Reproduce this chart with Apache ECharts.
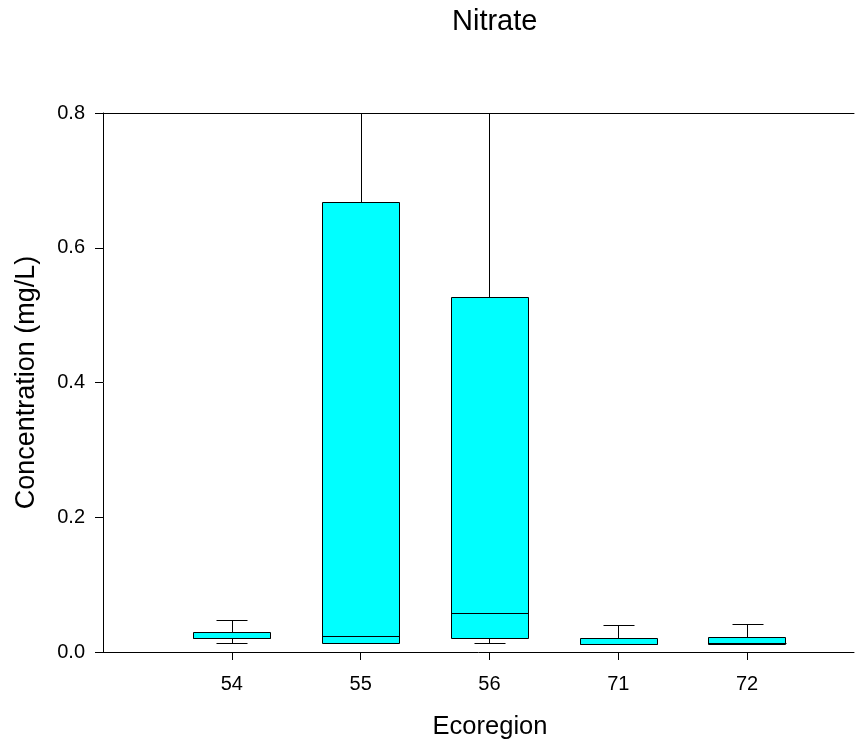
<!DOCTYPE html>
<html>
<head>
<meta charset="utf-8">
<script src="https://cdn.jsdelivr.net/npm/echarts@6/dist/echarts.min.js"></script>
<style>
html,body{margin:0;padding:0;background:#fff;}
#chart{width:866px;height:748px;}
</style>
</head>
<body>
<div id="chart"></div>
<script>
// Data
var categories = ['54', '55', '56', '71', '72'];
var lowWhisker = [0.0128, 0.013, 0.0134, 0.012, 0.012];
var q1Values = [0.0212, 0.0134, 0.0217, 0.0123, 0.0123];
var medianValues = [0.0215, 0.0232, 0.0574, 0.0125, 0.013];
var q3Values = [0.0297, 0.6675, 0.5275, 0.0208, 0.0223];
var highWhisker = [0.0469, 0.8, 0.8, 0.0405, 0.042];
var yTicks = [0, 0.2, 0.4, 0.6, 0.8];

var positions = categories.map(function (c, i) { return i + 1; });
var boxData = categories.map(function (c, i) {
  return [positions[i], lowWhisker[i], q1Values[i], medianValues[i], q3Values[i], highWhisker[i]];
});

var BOX_W = 0.6, CAP_W = 0.24;
var lineStyle = { stroke: '#000', lineWidth: 1 };

function renderItem(params, api) {
  var x = api.value(0);
  var lo = api.value(1), q1 = api.value(2), md = api.value(3), q3 = api.value(4), hi = api.value(5);
  var pL = api.coord([x - BOX_W / 2, q3]);
  var pR = api.coord([x + BOX_W / 2, q1]);
  var cL = api.coord([x - CAP_W / 2, hi]);
  var cR = api.coord([x + CAP_W / 2, lo]);
  var pc = api.coord([x, 0]);
  var yHi = api.coord([x, hi])[1], yLo = api.coord([x, lo])[1];
  var yQ1 = api.coord([x, q1])[1], yQ3 = api.coord([x, q3])[1], yMd = api.coord([x, md])[1];
  var cx = Math.round(pc[0]) + 0.5;
  function r(v) { return Math.round(v) + 0.5; }
  return {
    type: 'group',
    children: [
      { type: 'line', shape: { x1: cx, y1: r(yHi), x2: cx, y2: r(yQ3) }, style: lineStyle },
      { type: 'line', shape: { x1: cx, y1: r(yQ1), x2: cx, y2: r(yLo) }, style: lineStyle },
      { type: 'line', shape: { x1: r(cL[0]), y1: r(yHi), x2: r(cR[0]), y2: r(yHi) }, style: lineStyle },
      { type: 'line', shape: { x1: r(cL[0]), y1: r(yLo), x2: r(cR[0]), y2: r(yLo) }, style: lineStyle },
      { type: 'rect', shape: { x: r(pL[0]), y: r(yQ3), width: Math.round(pR[0] - pL[0]), height: Math.max(1, Math.round(yQ1 - yQ3)) },
        style: { fill: '#00FFFF', stroke: '#000', lineWidth: 1 } },
      { type: 'line', shape: { x1: r(pL[0]), y1: r(yMd), x2: r(pR[0]), y2: r(yMd) }, style: lineStyle }
    ]
  };
}

var chart = echarts.init(document.getElementById('chart'), null, { renderer: 'canvas' });
var FONT = '"Liberation Sans", Arial, sans-serif';
chart.setOption({
  backgroundColor: '#fff',
  animation: false,
  title: {
    text: 'Nitrate',
    left: 447,
    top: 2,
    textStyle: { fontFamily: FONT, fontSize: 29, fontWeight: 'normal', color: '#000' }
  },
  grid: { left: 103, right: 12, top: 113, bottom: 96, containLabel: false },
  xAxis: [{
    type: 'value',
    min: 0, max: 5.83,
    interval: 1,
    name: 'Ecoregion',
    nameLocation: 'middle',
    nameGap: 62,
    nameTextStyle: { fontFamily: FONT, fontSize: 25.5, color: '#000', padding: [0, 0, 0, 23] },
    axisLine: { show: true, onZero: false, lineStyle: { color: '#000', width: 1 } },
    axisTick: { show: true, inside: false, length: 8, customValues: positions, lineStyle: { color: '#000' } },
    axisLabel: {
      customValues: positions, margin: 22,
      fontFamily: FONT, fontSize: 20, color: '#000',
      formatter: function (v) { return categories[Math.round(v) - 1] || ''; }
    },
    splitLine: { show: false }
  }, {
    type: 'value',
    position: 'top',
    min: 0, max: 5.83,
    axisLine: { show: true, onZero: false, lineStyle: { color: '#000', width: 1 } },
    axisTick: { show: false },
    axisLabel: { show: false },
    splitLine: { show: false }
  }],
  yAxis: {
    type: 'value',
    min: 0, max: 0.8, interval: 0.2,
    name: 'Concentration (mg/L)',
    nameLocation: 'middle',
    nameGap: 63,
    nameTextStyle: { fontFamily: FONT, fontSize: 27, color: '#000' },
    axisLine: { show: true, lineStyle: { color: '#000', width: 1 } },
    axisTick: { show: true, inside: false, length: 8, customValues: yTicks, lineStyle: { color: '#000' } },
    axisLabel: {
      customValues: yTicks,
      margin: 18, fontFamily: FONT, fontSize: 20, color: '#000',
      formatter: function (v) { return v.toFixed(1); }
    },
    splitLine: { show: false }
  },
  series: [{
    type: 'custom',
    xAxisIndex: 0,
    renderItem: renderItem,
    clip: true,
    encode: { x: 0, y: [1, 2, 3, 4, 5] },
    data: boxData
  }]
});
</script>
</body>
</html>
